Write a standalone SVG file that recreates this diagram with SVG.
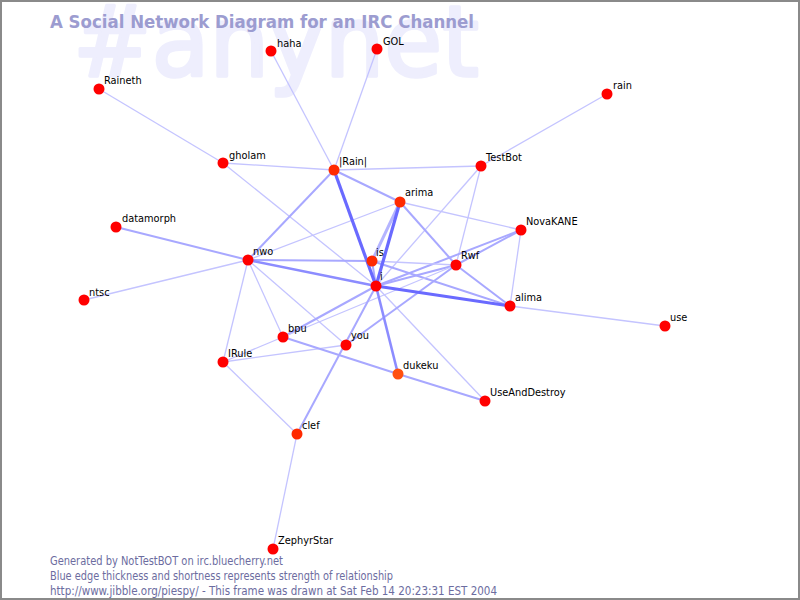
<svg xmlns="http://www.w3.org/2000/svg" width="800" height="600" viewBox="0 0 800 600">
<style>
.bg{fill:#ffffff;stroke:#8a8a8a;stroke-width:2}
.wm{font-family:"DejaVu Sans","Liberation Sans",sans-serif;font-size:98px;fill:#eeeefd;stroke:#eeeefd;stroke-width:3.5;stroke-linejoin:round}
.title{font-family:"DejaVu Sans","Liberation Sans",sans-serif;font-size:17px;font-weight:bold;fill:#9c9cd0}
.foot{font-family:"DejaVu Sans","Liberation Sans",sans-serif;font-size:12px;fill:#6c6ca0}
.e1{stroke:#c4c4ff;stroke-width:1.3;fill:none}
.e2{stroke:#a8a8ff;stroke-width:2;fill:none}
.e3{stroke:#8c8cff;stroke-width:2.6;fill:none}
.e4{stroke:#6a6aff;stroke-width:3.2;fill:none}
.n{fill:#ff0000}
.h{fill:#ff2a00}
.o{fill:#ff5010}
.lb{font-family:"DejaVu Sans","Liberation Sans",sans-serif;font-size:9.8px;fill:#000000}
</style>
<rect class="bg" x="1" y="1" width="798" height="598"/>
<text class="wm" x="73" y="76" textLength="406" lengthAdjust="spacingAndGlyphs">#anynet</text>
<text class="title" x="50" y="28" textLength="424" lengthAdjust="spacingAndGlyphs">A Social Network Diagram for an IRC Channel</text>
<g id="edges">
<line class="e1" x1="271" y1="51" x2="334" y2="170"/>
<line class="e1" x1="377" y1="49" x2="334" y2="170"/>
<line class="e1" x1="99" y1="89" x2="223" y2="163"/>
<line class="e1" x1="223" y1="163" x2="334" y2="170"/>
<line class="e1" x1="223" y1="163" x2="376" y2="286"/>
<line class="e1" x1="334" y1="170" x2="481" y2="166"/>
<line class="e2" x1="334" y1="170" x2="248" y2="260"/>
<line class="e2" x1="334" y1="170" x2="400" y2="202"/>
<line class="e1" x1="481" y1="166" x2="607" y2="94"/>
<line class="e1" x1="481" y1="166" x2="456" y2="265"/>
<line class="e1" x1="481" y1="166" x2="376" y2="286"/>
<line class="e3" x1="400" y1="202" x2="372" y2="261" style="stroke:#b4b4ff;stroke-width:3"/>
<line class="e2" x1="400" y1="202" x2="456" y2="265"/>
<line class="e1" x1="400" y1="202" x2="521" y2="230"/>
<line class="e1" x1="400" y1="202" x2="248" y2="260"/>
<line class="e2" x1="521" y1="230" x2="456" y2="265"/>
<line class="e1" x1="521" y1="230" x2="510" y2="306"/>
<line class="e2" x1="521" y1="230" x2="376" y2="286"/>
<line class="e2" x1="116" y1="227" x2="248" y2="260"/>
<line class="e1" x1="84" y1="300" x2="248" y2="260"/>
<line class="e2" x1="248" y1="260" x2="372" y2="261"/>
<line class="e1" x1="372" y1="261" x2="456" y2="265"/>
<line class="e3" x1="248" y1="260" x2="376" y2="286"/>
<line class="e1" x1="248" y1="260" x2="223" y2="362"/>
<line class="e1" x1="248" y1="260" x2="283" y2="337"/>
<line class="e1" x1="248" y1="260" x2="346" y2="345"/>
<line class="e2" x1="372" y1="261" x2="376" y2="286"/>
<line class="e2" x1="456" y1="265" x2="376" y2="286"/>
<line class="e2" x1="456" y1="265" x2="510" y2="306"/>
<line class="e2" x1="372" y1="261" x2="510" y2="306"/>
<line class="e1" x1="510" y1="306" x2="665" y2="326"/>
<line class="e1" x1="376" y1="286" x2="485" y2="401"/>
<line class="e2" x1="376" y1="286" x2="283" y2="337"/>
<line class="e1" x1="456" y1="265" x2="283" y2="337"/>
<line class="e2" x1="346" y1="345" x2="456" y2="265"/>
<line class="e2" x1="376" y1="286" x2="297" y2="434"/>
<line class="e1" x1="283" y1="337" x2="223" y2="362"/>
<line class="e1" x1="223" y1="362" x2="346" y2="345"/>
<line class="e1" x1="223" y1="362" x2="297" y2="434"/>
<line class="e2" x1="283" y1="337" x2="398" y2="374"/>
<line class="e2" x1="398" y1="374" x2="485" y2="401"/>
<line class="e1" x1="297" y1="434" x2="273" y2="549"/>
<line class="e4" x1="334" y1="170" x2="376" y2="286"/>
<line class="e4" x1="400" y1="202" x2="376" y2="286"/>
<line class="e4" x1="376" y1="286" x2="510" y2="306"/>
<line class="e3" x1="376" y1="286" x2="398" y2="374"/>
</g>
<g id="haha"><circle class="n" cx="271" cy="51" r="5.5"/><text class="lb" x="277" y="47">haha</text></g>
<g id="GOL"><circle class="n" cx="377" cy="49" r="5.5"/><text class="lb" x="383" y="45">GOL</text></g>
<g id="Raineth"><circle class="n" cx="99" cy="89" r="5.5"/><text class="lb" x="104" y="84">Raineth</text></g>
<g id="rain"><circle class="n" cx="607" cy="94" r="5.5"/><text class="lb" x="613" y="89">rain</text></g>
<g id="gholam"><circle class="n" cx="223" cy="163" r="5.5"/><text class="lb" x="229" y="159">gholam</text></g>
<g id="Rain"><circle class="h" cx="334" cy="170" r="5.5"/><text class="lb" x="339" y="165">|Rain|</text></g>
<g id="TestBot"><circle class="n" cx="481" cy="166" r="5.5"/><text class="lb" x="486" y="161">TestBot</text></g>
<g id="arima"><circle class="h" cx="400" cy="202" r="5.5"/><text class="lb" x="405" y="196">arima</text></g>
<g id="NovaKANE"><circle class="n" cx="521" cy="230" r="5.5"/><text class="lb" x="526" y="225">NovaKANE</text></g>
<g id="datamorph"><circle class="n" cx="116" cy="227" r="5.5"/><text class="lb" x="122" y="222">datamorph</text></g>
<g id="nwo"><circle class="n" cx="248" cy="260" r="5.5"/><text class="lb" x="253" y="255">nwo</text></g>
<g id="is"><circle class="h" cx="372" cy="261" r="5.5"/><text class="lb" x="376" y="256">is</text></g>
<g id="Rwf"><circle class="n" cx="456" cy="265" r="5.5"/><text class="lb" x="461" y="259">Rwf</text></g>
<g id="i"><circle class="n" cx="376" cy="286" r="5.5"/><text class="lb" x="380" y="280">i</text></g>
<g id="ntsc"><circle class="n" cx="84" cy="300" r="5.5"/><text class="lb" x="89" y="296">ntsc</text></g>
<g id="alima"><circle class="n" cx="510" cy="306" r="5.5"/><text class="lb" x="515" y="301">alima</text></g>
<g id="use"><circle class="n" cx="665" cy="326" r="5.5"/><text class="lb" x="670" y="321">use</text></g>
<g id="bpu"><circle class="n" cx="283" cy="337" r="5.5"/><text class="lb" x="288" y="332">bpu</text></g>
<g id="you"><circle class="n" cx="346" cy="345" r="5.5"/><text class="lb" x="351" y="339">you</text></g>
<g id="IRule"><circle class="n" cx="223" cy="362" r="5.5"/><text class="lb" x="228" y="357">IRule</text></g>
<g id="dukeku"><circle class="o" cx="398" cy="374" r="5.5"/><text class="lb" x="403" y="369">dukeku</text></g>
<g id="UseAndDestroy"><circle class="n" cx="485" cy="401" r="5.5"/><text class="lb" x="490" y="396">UseAndDestroy</text></g>
<g id="clef"><circle class="h" cx="297" cy="434" r="5.5"/><text class="lb" x="302" y="429">clef</text></g>
<g id="ZephyrStar"><circle class="n" cx="273" cy="549" r="5.5"/><text class="lb" x="278" y="544">ZephyrStar</text></g>
<text class="foot" x="50" y="565" textLength="233" lengthAdjust="spacingAndGlyphs">Generated by NotTestBOT on irc.bluecherry.net</text>
<text class="foot" x="50" y="580" textLength="343" lengthAdjust="spacingAndGlyphs">Blue edge thickness and shortness represents strength of relationship</text>
<text class="foot" x="50" y="595" textLength="447" lengthAdjust="spacingAndGlyphs">http://www.jibble.org/piespy/ - This frame was drawn at Sat Feb 14 20:23:31 EST 2004</text>
</svg>
